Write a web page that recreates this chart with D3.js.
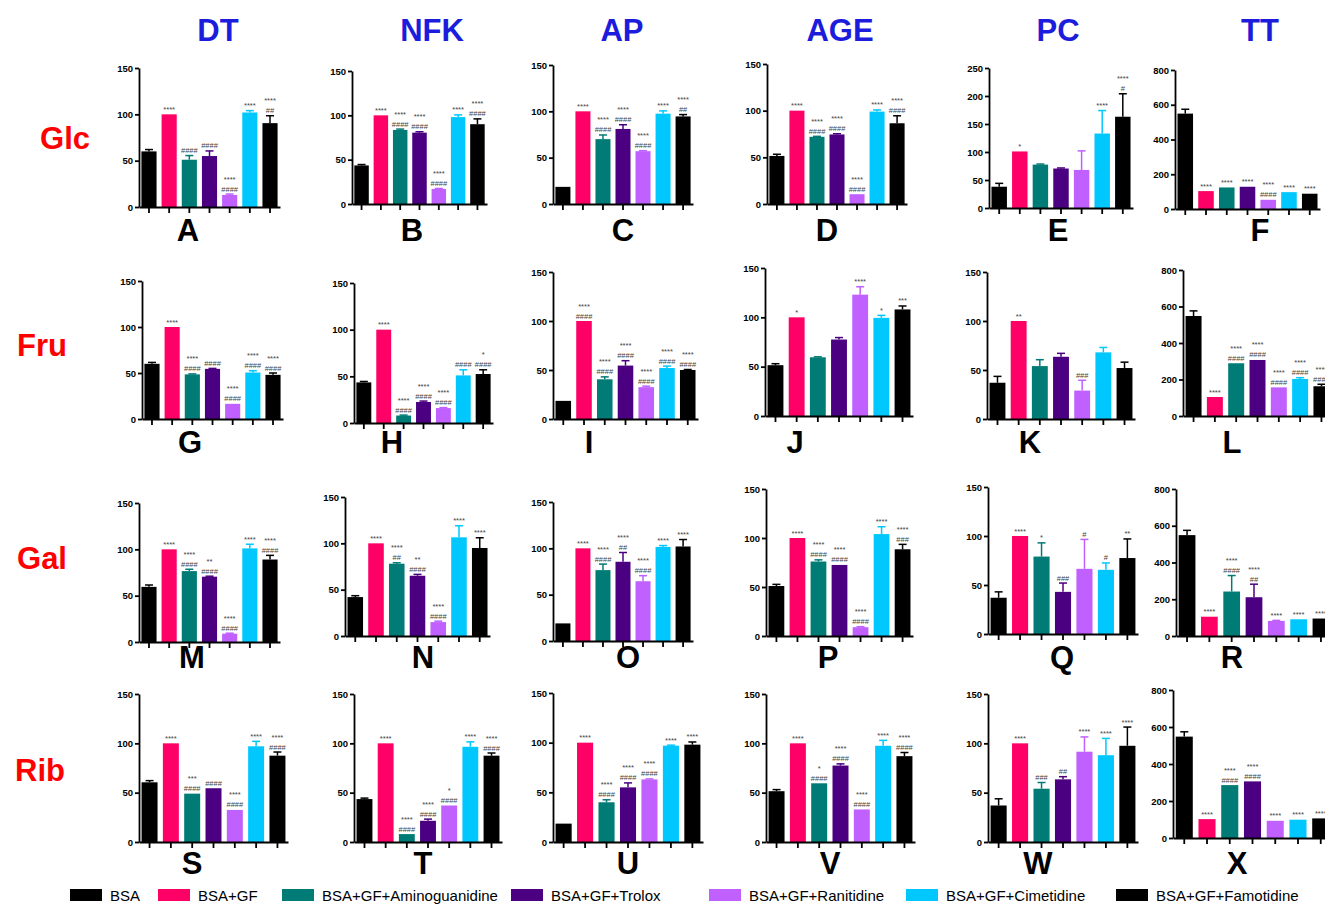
<!DOCTYPE html>
<html lang="en">
<head>
<meta charset="UTF-8">
<title>Glycation panels</title>
<script src="https://d3js.org/d3.v7.min.js"></script>
<style>
  body { margin: 0; background: #fff; }
  svg { display: block; font-family: Arial, "Liberation Sans", sans-serif; }
  .axis path, .axis line { stroke: #000; stroke-width: 1.8; }
  .axis text { font-size: 9.5px; font-weight: bold; fill: #000; }
  .sig { font-size: 7.5px; fill: #444; text-anchor: middle; }
</style>
</head>
<body>
<svg width="1325" height="904"></svg>
<script>
// groups and colours
const groups = ["BSA", "BSA+GF", "BSA+GF+Aminoguanidine", "BSA+GF+Trolox",
                "BSA+GF+Ranitidine", "BSA+GF+Cimetidine", "BSA+GF+Famotidine"];
const colors = ["#000000", "#ff0066", "#007b75", "#4a0080", "#c060ff", "#00c8ff", "#000000"];

const assays = ["DT", "NFK", "AP", "AGE", "PC", "TT"];
const sugars = ["Glc", "Fru", "Gal", "Rib"];
const letters = "ABCDEFGHIJKLMNOPQRSTUVWX".split("");

// y axis max per panel (row by row)
const yMax = [150, 150, 150, 150, 250, 800,
              150, 150, 150, 150, 150, 800,
              150, 150, 150, 150, 150, 800,
              150, 150, 150, 150, 150, 800];
const yStep = { 150: 50, 250: 50, 800: 200 };

// bar heights (%)
const means = [
  [60, 100, 51, 55, 13, 102, 90.5],
  [43.5, 100, 83.5, 80.5, 17, 98, 90],
  [18.5, 100, 70, 81, 57, 97.5, 94.5],
  [51.5, 100, 72, 74.5, 10.5, 99, 86.5],
  [38, 101, 77.5, 70.5, 68, 133, 163],
  [549, 103, 124, 128, 53, 97, 88],
  [60, 100, 48.5, 54.5, 16.5, 50.5, 48],
  [43.5, 100, 8, 22.5, 16, 51, 52.5],
  [18.5, 100, 40.5, 54.5, 32.5, 52, 50],
  [51.5, 100, 59.5, 77.5, 123, 99.5, 108],
  [37, 100, 54, 63.5, 29, 68, 52],
  [548, 104, 289, 307, 157, 203, 163],
  [59.5, 100, 76.5, 70.5, 9, 101, 89],
  [42, 100, 78, 65, 15, 106.5, 95],
  [19, 100, 76.5, 85.5, 64.5, 101.5, 102],
  [51, 100, 76, 72.5, 9, 104, 88.5],
  [37, 100, 79, 43, 66.5, 65.5, 77.5],
  [549, 105, 242, 211, 82, 91, 95],
  [60.5, 100, 49, 54.5, 32.5, 97, 87.5],
  [43.5, 100, 8, 21.5, 37, 96.5, 87.5],
  [18.5, 100, 40, 55, 63, 97, 98],
  [51.5, 100, 59.5, 77.5, 33, 97.5, 87],
  [37, 100, 54, 63.5, 91.5, 88, 97.5],
  [548, 102, 286, 306, 93, 99, 106]
];

// upper error bars
const errs = [
  [2, 0, 4.5, 5.5, 1, 2, 8],
  [1, 0, 1, 1, 0.5, 2.5, 6],
  [0, 0, 4.5, 4.5, 0.5, 3, 2],
  [1.8, 0, 0.5, 0.8, 0, 1.8, 8],
  [6, 0, 1, 1, 34, 41, 41],
  [25, 0, 0, 0, 0, 0, 0],
  [1.5, 0, 0.5, 0.5, 0, 2, 2],
  [1, 0, 0.5, 1, 0.5, 6, 4.5],
  [0, 0, 2.5, 5, 1, 2, 0.5],
  [1.5, 0, 0.5, 2, 8, 2.5, 3.5],
  [6.5, 0, 6.5, 3.5, 10.5, 5, 6],
  [28, 0, 0, 0, 0, 7, 11],
  [2, 0, 2, 0.5, 0.5, 4.5, 4.5],
  [1.5, 0, 1, 1.5, 1, 12.5, 11],
  [0, 0, 6.5, 10, 6, 1.5, 7.5],
  [1.7, 0, 1.7, 0, 0.5, 7.5, 5],
  [6, 0, 14, 9, 30, 7, 19.5],
  [26, 0, 87, 71, 3, 0, 0],
  [1.7, 0, 0, 0, 0, 5, 3.7],
  [1, 0, 0, 1.7, 0, 5, 2.7],
  [0, 0, 2.5, 4.5, 0.5, 0.5, 2.7],
  [1.6, 0, 0, 1.7, 0, 5.5, 3.7],
  [6.8, 0, 6.3, 2.7, 15, 17, 19],
  [26, 0, 0, 0, 0, 0, 0]
];

// significance vs BSA (stars) and vs BSA+GF (hashes)
const stars = [
  ["", "****", "", "", "****", "****", "****"],
  ["", "****", "****", "****", "****", "****", "****"],
  ["", "****", "****", "****", "****", "****", "****"],
  ["", "****", "****", "****", "****", "****", "****"],
  ["", "*", "", "", "", "****", "****"],
  ["", "****", "****", "****", "****", "****", "****"],
  ["", "****", "****", "", "****", "****", "****"],
  ["", "****", "****", "****", "****", "", "*"],
  ["", "****", "****", "****", "****", "****", "****"],
  ["", "*", "", "", "****", "*", "***"],
  ["", "**", "", "", "", "", ""],
  ["", "****", "****", "****", "****", "****", "****"],
  ["", "****", "****", "**", "****", "****", "****"],
  ["", "****", "****", "**", "****", "****", "****"],
  ["", "****", "****", "****", "****", "****", "****"],
  ["", "****", "****", "****", "****", "****", "****"],
  ["", "****", "*", "", "", "", "**"],
  ["", "****", "****", "****", "****", "****", "****"],
  ["", "****", "***", "", "****", "****", "****"],
  ["", "****", "****", "****", "*", "****", "****"],
  ["", "****", "****", "****", "****", "****", "****"],
  ["", "****", "*", "****", "****", "****", "****"],
  ["", "****", "", "", "****", "****", "****"],
  ["", "****", "****", "****", "****", "****", "****"]
];
const hashes = [
  ["", "", "####", "####", "####", "", "##"],
  ["", "", "####", "####", "####", "", "####"],
  ["", "", "####", "####", "####", "", "##"],
  ["", "", "####", "####", "####", "", "####"],
  ["", "", "", "", "", "", "#"],
  ["", "", "", "", "####", "", ""],
  ["", "", "####", "####", "####", "####", "####"],
  ["", "", "####", "####", "####", "####", "####"],
  ["", "####", "####", "####", "####", "####", "####"],
  ["", "", "", "", "", "", ""],
  ["", "", "", "", "###", "", ""],
  ["", "", "####", "####", "####", "####", "####"],
  ["", "", "####", "####", "####", "", "####"],
  ["", "", "##", "####", "####", "", ""],
  ["", "", "####", "##", "####", "", ""],
  ["", "", "####", "####", "####", "", "###"],
  ["", "", "", "###", "#", "#", ""],
  ["", "", "####", "##", "", "", ""],
  ["", "", "####", "####", "####", "", "####"],
  ["", "", "####", "####", "####", "", "####"],
  ["", "", "####", "####", "####", "", ""],
  ["", "", "####", "####", "####", "", "####"],
  ["", "", "###", "##", "", "", ""],
  ["", "", "####", "####", "", "", ""]
];

// panel placement: [y-axis x, axis end x, top tick y, zero y, letter x]
const layout = [
  [139, 280, 68, 207, 188], [352, 487, 71, 204, 412], [553, 693, 65, 204, 623],
  [767, 907, 64, 204, 827], [989, 1133, 68, 208, 1058], [1175, 1320, 70, 209, 1260],
  [142, 283, 281, 419, 190], [354, 493, 283, 423, 392], [553, 698, 272, 419, 589],
  [765, 913, 268, 416, 795], [987, 1135, 272, 419, 1030], [1183, 1332, 270, 416, 1232],
  [139, 280, 503, 642, 192], [345, 490, 497, 636, 423], [553, 693, 502, 641, 628],
  [766, 913, 489, 636, 828], [988, 1138, 487, 634, 1062], [1176, 1332, 489, 636, 1232],
  [139, 288, 694, 842, 192], [354, 502, 694, 842, 423], [553, 703, 693, 842, 628],
  [766, 915, 694, 842, 830], [988, 1138, 694, 842, 1038], [1173, 1332, 690, 838, 1237]
];
const letterBase = [241, 453, 668, 874];

const svg = d3.select("svg");

// column titles and row labels
const colX = [218, 432, 622, 840, 1058, 1260];
svg.selectAll(".coltitle").data(assays).enter().append("text")
  .attr("x", (d, i) => colX[i]).attr("y", 41)
  .attr("text-anchor", "middle")
  .style("font-size", "31px").style("font-weight", "bold").style("fill", "#1c1cdc")
  .text(d => d);

const rowY = [149, 356, 569, 781];
const rowX = [65, 42, 42, 40];
svg.selectAll(".rowtitle").data(sugars).enter().append("text")
  .attr("x", (d, i) => rowX[i]).attr("y", (d, i) => rowY[i])
  .attr("text-anchor", "middle")
  .style("font-size", "31px").style("font-weight", "bold").style("fill", "#ff0000")
  .text(d => d);

letters.forEach((letter, p) => {
  const [ax, axEnd, top, zero, lx] = layout[p];
  const row = Math.floor(p / 6);
  const g = svg.append("g");

  const x = d3.scaleBand().domain(groups).range([ax, axEnd])
    .paddingInner(0.25).paddingOuter(0.12);
  const y = d3.scaleLinear().domain([0, yMax[p]]).range([zero, top]);

  const vals = groups.map((grp, i) => ({
    grp, i, v: means[p][i], e: errs[p][i], s: stars[p][i], h: hashes[p][i]
  }));

  // bars
  g.selectAll("rect").data(vals).enter().append("rect")
    .attr("x", d => x(d.grp))
    .attr("width", x.bandwidth())
    .attr("y", d => y(d.v))
    .attr("height", d => zero - y(d.v))
    .attr("fill", d => colors[d.i]);

  // error bars (upper only)
  const eb = g.selectAll(".err").data(vals.filter(d => d.e > 0)).enter().append("g")
    .attr("stroke", d => colors[d.i]).attr("stroke-width", 1.5);
  eb.append("line")
    .attr("x1", d => x(d.grp) + x.bandwidth() / 2).attr("x2", d => x(d.grp) + x.bandwidth() / 2)
    .attr("y1", d => y(d.v)).attr("y2", d => y(d.v + d.e));
  eb.append("line")
    .attr("x1", d => x(d.grp) + x.bandwidth() / 2 - 4).attr("x2", d => x(d.grp) + x.bandwidth() / 2 + 4)
    .attr("y1", d => y(d.v + d.e)).attr("y2", d => y(d.v + d.e));

  // significance marks
  vals.forEach(d => {
    const cx = x(d.grp) + x.bandwidth() / 2;
    let base = y(d.v + d.e) - 2.5;
    const lines = [d.h, d.s].filter(t => t);
    lines.forEach(t => {
      g.append("text").attr("class", "sig").attr("x", cx).attr("y", base).text(t);
      base -= 10;
    });
  });

  // axes
  const step = yStep[yMax[p]];
  g.append("g").attr("class", "axis")
    .attr("transform", `translate(${ax},0)`)
    .call(d3.axisLeft(y).tickValues(d3.range(0, yMax[p] + 1, step)).tickSize(4).tickSizeOuter(0).tickPadding(2));
  g.append("g").attr("class", "axis")
    .attr("transform", `translate(0,${zero})`)
    .call(d3.axisBottom(x).tickSize(6).tickSizeOuter(0).tickFormat(""));

  // panel letter
  svg.append("text")
    .attr("x", lx).attr("y", letterBase[row])
    .attr("text-anchor", "middle")
    .style("font-size", "31px").style("font-weight", "bold")
    .text(letter);
});

// legend
const legX = [70, 158, 282, 511, 709, 906, 1116];
const leg = svg.selectAll(".leg").data(groups).enter().append("g")
  .attr("transform", (d, i) => `translate(${legX[i]},889)`);
leg.append("rect").attr("width", 32).attr("height", 12).attr("fill", (d, i) => colors[i]);
leg.append("text").attr("x", 40).attr("y", 11.5)
  .style("font-size", "15px").text(d => d);
</script>
</body>
</html>
